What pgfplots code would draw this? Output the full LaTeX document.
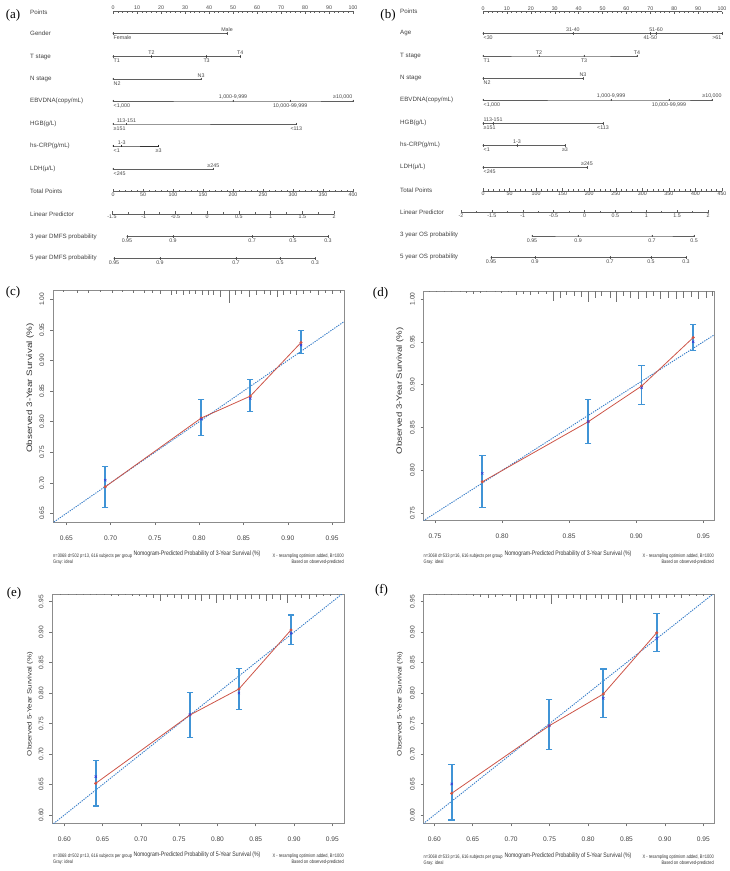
\documentclass[border=0pt]{standalone}
\usepackage{pgfplots}
\usepackage{pgfplotstable}
\pgfplotsset{compat=1.18}
\usepackage{fontspec}
\setmainfont{Liberation Sans}
\newfontfamily\seriffont{Liberation Serif}
\definecolor{ebblue}{RGB}{64,148,214}
\definecolor{redl}{RGB}{205,85,72}
\definecolor{xblue}{RGB}{60,60,215}
\definecolor{diagblue}{RGB}{55,125,200}
\definecolor{nline}{RGB}{95,95,95}
\definecolor{ntext}{RGB}{70,70,70}

% calibration data: x = predicted, y = observed (KM), xb = bias-corrected
\pgfplotstableread{
x y xb
0.694 0.6935 0.7044
0.8024 0.806 0.804
0.8577 0.8417 0.838
0.915 0.9294 0.9251
}\calc
\pgfplotstableread{
x y xb
0.7853 0.7868 0.7966
0.8642 0.8568 0.857
0.904 0.8984 0.8964
0.9425 0.955 0.950
}\cald
\pgfplotstableread{
x y xb
0.641 0.652 0.663
0.764 0.764 0.765
0.828 0.8067 0.800
0.896 0.9035 0.898
}\cale
\pgfplotstableread{
x y xb
0.6226 0.6356 0.651
0.7496 0.7465 0.7465
0.8199 0.7985 0.7915
0.8893 0.899 0.8899
}\calf
% rugs: x, length
\pgfplotstableread{
x l
0.647 0.0027
0.662 0.0044
0.675 0.0044
0.688 0.0027
0.702 0.0044
0.713 0.0027
0.726 0.0044
0.738 0.0044
0.747 0.0054
0.756 0.0065
0.768 0.0082
0.774 0.0065
0.782 0.0082
0.789 0.0065
0.796 0.0065
0.803 0.0082
0.810 0.0082
0.816 0.0082
0.824 0.011
0.834 0.0207
0.841 0.0082
0.848 0.0065
0.856 0.011
0.865 0.0082
0.873 0.0065
0.880 0.0082
0.888 0.011
0.895 0.0082
0.903 0.0065
0.910 0.0082
0.918 0.0065
0.925 0.0054
0.934 0.0082
0.942 0.0054
0.950 0.0065
0.959 0.0044
}\rugc
\pgfplotstableread{
x l
0.7458 0.0012
0.7512 0.0012
0.7567 0.0012
0.7624 0.0016
0.7686 0.0016
0.7736 0.0019
0.7785 0.0031
0.7835 0.0019
0.7885 0.0016
0.7947 0.0016
0.7997 0.0019
0.8046 0.0016
0.8109 0.0047
0.8158 0.0039
0.8208 0.0047
0.8270 0.0039
0.8332 0.0039
0.8382 0.0117
0.8431 0.0078
0.8481 0.0047
0.8536 0.0058
0.8593 0.0070
0.8642 0.0128
0.8692 0.0078
0.8742 0.0058
0.8804 0.0086
0.8854 0.0128
0.8903 0.0058
0.8953 0.0078
0.9015 0.0097
0.9072 0.0086
0.9126 0.0058
0.9176 0.0097
0.9238 0.0078
0.9301 0.0097
0.9350 0.0086
0.9412 0.0070
0.9462 0.0097
0.9519 0.0086
0.9569 0.0058
}\rugd
\pgfplotstableread{
x l
0.5944 0.0016
0.6052 0.0016
0.6162 0.0016
0.6248 0.0016
0.6335 0.0022
0.6423 0.0016
0.6518 0.0022
0.6619 0.0027
0.6705 0.0027
0.6792 0.0022
0.6893 0.0027
0.6979 0.0027
0.7075 0.0055
0.7162 0.0066
0.7258 0.0120
0.7344 0.0044
0.7432 0.0066
0.7532 0.0082
0.7618 0.0082
0.7706 0.0098
0.7793 0.0109
0.7892 0.0082
0.7989 0.0153
0.8075 0.0098
0.8162 0.0082
0.8258 0.0098
0.8358 0.0082
0.8446 0.0082
0.8545 0.0082
0.8641 0.0109
0.8720 0.0082
0.8815 0.0098
0.8910 0.0153
0.9011 0.0055
0.9098 0.0066
0.9197 0.0082
0.9285 0.0055
0.9380 0.0027
0.9477 0.0027
0.9563 0.0016
}\puge
\pgfplotstableread{
x l
0.5935 0.0016
0.6031 0.0016
0.6126 0.0016
0.6226 0.0016
0.6312 0.0022
0.6412 0.0022
0.6507 0.0027
0.6604 0.0044
0.6703 0.0066
0.6790 0.0044
0.6890 0.0027
0.6985 0.0044
0.7072 0.0109
0.7158 0.0082
0.7245 0.0066
0.7332 0.0082
0.7427 0.0066
0.7527 0.0164
0.7613 0.0066
0.7713 0.0082
0.7808 0.0066
0.7896 0.0082
0.7983 0.0098
0.8091 0.0066
0.8178 0.0082
0.8264 0.0082
0.8364 0.0098
0.8451 0.0153
0.8546 0.0082
0.8633 0.0098
0.8728 0.0066
0.8828 0.0082
0.8927 0.0066
0.9023 0.0066
0.9118 0.0055
0.9219 0.0066
0.9318 0.0027
0.9414 0.0027
0.9500 0.0027
0.9596 0.0016
}\rugf

\pgfplotsset{
  ptsA/.style={x filter/.expression={113+2.4*x}},
  totA/.style={x filter/.expression={113+0.6*x}},
  ptsB/.style={x filter/.expression={483+2.39*x}},
  totB/.style={x filter/.expression={483+0.5311*x}},
  nrow/.style={color=nline, line width=0.6pt, mark=|, mark size=1.3pt, mark options={solid, line width=0.5pt}},
  nlab/.style={only marks, mark=*, mark size=0.1pt, mark options={draw=none, fill=none}, nodes near coords, point meta=explicit symbolic,
     every node near coord/.append style={font=\fontsize{5.3}{6}\selectfont, text=ntext, inner sep=0.5pt}},
  lA/.style={nlab, nodes near coords align={above}, every node near coord/.append style={yshift=1.2pt}},
  lAR/.style={nlab, nodes near coords align={above left}, every node near coord/.append style={yshift=1.2pt}},
  lB/.style={nlab, nodes near coords align={below}, every node near coord/.append style={yshift=-1.8pt}},
  lBL/.style={nlab, nodes near coords align={below right}, every node near coord/.append style={yshift=-1.8pt}},
  lBR/.style={nlab, nodes near coords align={below left}, every node near coord/.append style={yshift=-1.8pt}},
  scaleax/.style={scale only axis, height=1pt, ymin=0, ymax=1, hide y axis,
     axis line style={draw=nline, line width=0.6pt}, x axis line style={-},
     tick style={draw=nline, line width=0.4pt}, major tick length=2.6pt, minor tick length=1.6pt,
     tick align=inside, tick label style={font=\fontsize{5.3}{6}\selectfont, text=ntext, inner sep=1pt},
     /pgf/number format/assume math mode=true},
  calib/.style={scale only axis, clip=true, axis line style={draw=black!45, line width=0.6pt},
     xtick pos=bottom, ytick pos=left, tick align=outside, major tick length=3pt,
     tick style={draw=black!55, line width=0.5pt},
     tick label style={font=\fontsize{6.6}{7}\selectfont, text=black!75},
     yticklabel style={rotate=90, anchor=south}, xticklabel shift=7.5pt, yticklabel shift=2.4pt,
     /pgf/number format/.cd, fixed, fixed zerofill, precision=2, assume math mode=true},
  diag/.style={color=diagblue, line width=0.9pt, dash pattern=on 1.3pt off 1.1pt},
  xmk/.style={only marks, mark=x, mark size=1.6pt, color=xblue, mark options={line width=0.6pt}},
  calred/.style={color=redl, line width=0.8pt, mark=*, mark size=1.1pt, mark options={fill=redl, draw=redl, solid}},
  ebar/.style={draw=ebblue, line width=1.8pt, line cap=butt, mark=-, mark size=3.2pt, mark options={solid, draw=ebblue, line width=1.1pt}},
  rug/.style={color=black!55, only marks, mark=*, mark size=0pt, mark options={draw=none, fill=none},
     error bars/.cd, y dir=minus, y explicit, error mark=none,
     error bar style={color=black!55, line width=0.5pt}},
}
\newcommand\xlab[1]{\fontsize{6.5}{7}\selectfont\scalebox{0.8}[1]{#1}}
\newcommand\foot[1]{\fontsize{5}{6}\selectfont\scalebox{0.8}[1]{#1}}

\begin{document}
\begin{tikzpicture}[x=1pt,y=1pt]
\path[use as bounding box] (0,0) rectangle (730,-871);

% ---------------- nomograms (overlay axis, pixel coordinates) ----------------
\begin{axis}[at={(0pt,0pt)}, anchor=north west, scale only axis, width=730pt, height=871pt,
  xmin=0, xmax=730, ymin=0, ymax=871, y dir=reverse, hide axis, clip=false]
% (a) Gender
\addplot[ptsA, nrow] coordinates {(0,33.3) (47.5,33.3)};
\addplot[ptsA, lBL] coordinates {(0,33.3) [Female]};
\addplot[ptsA, lA] coordinates {(47.5,33.3) [Male]};
% (a) T stage
\addplot[ptsA, nrow] coordinates {(0,56.7) (16,56.7) (39,56.7) (53,56.7)};
\addplot[ptsA, lBL] coordinates {(0,56.7) [T1]};
\addplot[ptsA, lA] coordinates {(16,56.7) [T2] (53,56.7) [T4]};
\addplot[ptsA, lB] coordinates {(39,56.7) [T3]};
% (a) N stage
\addplot[ptsA, nrow] coordinates {(0,79) (36.7,79)};
\addplot[ptsA, lBL] coordinates {(0,79) [N2]};
\addplot[ptsA, lA] coordinates {(36.7,79) [N3]};
% (a) EBVDNA
\addplot[ptsA, nrow] coordinates {(0,101) (50,101) (73.8,101) (100,101)};
\addplot[ptsA, lBL] coordinates {(0,101) [{<1,000}]};
\addplot[ptsA, lA] coordinates {(50,101) [{1,000-9,999}]};
\addplot[ptsA, lB] coordinates {(73.8,101) [{10,000-99,999}]};
\addplot[ptsA, lAR] coordinates {(100,101) [{≥10,000}]};
% (a) HGB
\addplot[ptsA, nrow] coordinates {(0,124) (5.6,124) (76.4,124)};
\addplot[ptsA, lBL] coordinates {(0,124) [{≥151}]};
\addplot[ptsA, lA] coordinates {(5.6,124) [{113-151}]};
\addplot[ptsA, lB] coordinates {(76.4,124) [{<113}]};
% (a) hs-CRP
\addplot[ptsA, nrow, line width=0.9pt, color=black!80] coordinates {(0,146) (3.6,146) (19,146)};
\addplot[ptsA, lBL] coordinates {(0,146) [{<1}]};
\addplot[ptsA, lA] coordinates {(3.6,146) [{1-3}]};
\addplot[ptsA, lB] coordinates {(19,146) [{≥3}]};
% (a) LDH
\addplot[ptsA, nrow] coordinates {(0,169) (41.8,169)};
\addplot[ptsA, lBL] coordinates {(0,169) [{<245}]};
\addplot[ptsA, lA] coordinates {(41.8,169) [{≥245}]};
% (a) 3 / 5 year DMFS (in total points)
\addplot[totA, nrow, line width=0.5pt] coordinates {(23.3,236.7) (100,236.7) (231.7,236.7) (300,236.7) (358.3,236.7)};
\addplot[totA, lB] coordinates {(23.3,236.7) [0.95] (100,236.7) [0.9] (231.7,236.7) [0.7] (300,236.7) [0.5] (358.3,236.7) [0.3]};
\addplot[totA, nrow, line width=0.5pt] coordinates {(1.7,258.3) (78.3,258.3) (205,258.3) (278.3,258.3) (336.7,258.3)};
\addplot[totA, lB] coordinates {(1.7,258.3) [0.95] (78.3,258.3) [0.9] (205,258.3) [0.7] (278.3,258.3) [0.5] (336.7,258.3) [0.3]};

% (b) Age
\addplot[ptsB, nrow] coordinates {(0,33.3) (37.6,33.3) (70,33.3) (72.4,33.3) (100,33.3)};
\addplot[ptsB, lBL] coordinates {(0,33.3) [{<30}]};
\addplot[ptsB, lA] coordinates {(37.6,33.3) [{31-40}] (72.4,33.3) [{51-60}]};
\addplot[ptsB, lB] coordinates {(70,33.3) [{41-50}]};
\addplot[ptsB, lBR] coordinates {(100,33.3) [{>61}]};
% (b) T stage
\addplot[ptsB, nrow] coordinates {(0,56) (23.4,56) (42.3,56) (64.4,56)};
\addplot[ptsB, lBL] coordinates {(0,56) [T1]};
\addplot[ptsB, lA] coordinates {(23.4,56) [T2] (64.4,56) [T4]};
\addplot[ptsB, lB] coordinates {(42.3,56) [T3]};
% (b) N stage
\addplot[ptsB, nrow] coordinates {(0,78.3) (41.8,78.3)};
\addplot[ptsB, lBL] coordinates {(0,78.3) [N2]};
\addplot[ptsB, lA] coordinates {(41.8,78.3) [N3]};
% (b) EBVDNA
\addplot[ptsB, nrow] coordinates {(0,100) (53.6,100) (77.8,100) (95.8,100)};
\addplot[ptsB, lBL] coordinates {(0,100) [{<1,000}]};
\addplot[ptsB, lA] coordinates {(53.6,100) [{1,000-9,999}] (95.8,100) [{≥10,000}]};
\addplot[ptsB, lB] coordinates {(77.8,100) [{10,000-99,999}]};
% (b) HGB
\addplot[ptsB, nrow] coordinates {(0,123.3) (4.2,123.3) (50.2,123.3)};
\addplot[ptsB, lBL] coordinates {(0,123.3) [{≥151}]};
\addplot[ptsB, lA] coordinates {(4.2,123.3) [{113-151}]};
\addplot[ptsB, lB] coordinates {(50.2,123.3) [{<113}]};
% (b) hs-CRP
\addplot[ptsB, nrow] coordinates {(0,145.3) (14.2,145.3) (34.3,145.3)};
\addplot[ptsB, lBL] coordinates {(0,145.3) [{<1}]};
\addplot[ptsB, lA] coordinates {(14.2,145.3) [{1-3}]};
\addplot[ptsB, lB] coordinates {(34.3,145.3) [{≥3}]};
% (b) LDH
\addplot[ptsB, nrow] coordinates {(0,167.3) (43.5,167.3)};
\addplot[ptsB, lBL] coordinates {(0,167.3) [{<245}]};
\addplot[ptsB, lA] coordinates {(43.5,167.3) [{≥245}]};
% (b) 3 / 5 year OS
\addplot[totB, nrow, line width=0.5pt] coordinates {(92.3,236) (178.9,236) (318.2,236) (397.3,236)};
\addplot[totB, lB] coordinates {(92.3,236) [0.95] (178.9,236) [0.9] (318.2,236) [0.7] (397.3,236) [0.5]};
\addplot[totB, nrow, line width=0.5pt] coordinates {(15.1,257.7) (97.9,257.7) (239.1,257.7) (316.3,257.7) (382.2,257.7)};
\addplot[totB, lB] coordinates {(15.1,257.7) [0.95] (97.9,257.7) [0.9] (239.1,257.7) [0.7] (316.3,257.7) [0.5] (382.2,257.7) [0.3]};
\end{axis}

% ---------------- nomogram scale axes ----------------
\begin{axis}[scaleax, axis x line*=top, at={(113pt,-11pt)}, anchor=north west, width=240pt,
  xmin=0, xmax=100, xtick={0,10,...,100}, minor x tick num=4]
\end{axis}
\begin{axis}[scaleax, axis x line*=bottom, at={(113pt,-191.7pt)}, anchor=south west, width=240pt,
  xmin=0, xmax=400, xtick={0,50,...,400}, minor x tick num=4]
\end{axis}
\begin{axis}[scaleax, axis x line*=bottom, at={(112pt,-214pt)}, anchor=south west, width=222pt,
  xmin=-1.5, xmax=2, xtick={-1.5,-1,-0.5,0,0.5,1,1.5,2}, minor x tick num=1]
\end{axis}
\begin{axis}[scaleax, axis x line*=top, at={(483pt,-11.7pt)}, anchor=north west, width=239pt,
  xmin=0, xmax=100, xtick={0,10,...,100}, minor x tick num=4]
\end{axis}
\begin{axis}[scaleax, axis x line*=bottom, at={(483pt,-191pt)}, anchor=south west, width=239pt,
  xmin=0, xmax=450, xtick={0,50,...,450}, minor x tick num=4]
\end{axis}
\begin{axis}[scaleax, axis x line*=bottom, at={(461pt,-212.7pt)}, anchor=south west, width=247pt,
  xmin=-2, xmax=2, xtick={-2,-1.5,-1,-0.5,0,0.5,1,1.5,2}, minor x tick num=1]
\end{axis}

% row names
\begin{scope}[every node/.style={anchor=west, font=\fontsize{6.2}{7}\selectfont, text=black!75, inner sep=0pt}]
\node at (30,-12.3) {Points};
\node at (30,-33.3) {Gender};
\node at (30,-56.7) {T stage};
\node at (30,-79) {N stage};
\node at (30,-101) {EBVDNA(copy/mL)};
\node at (30,-124) {HGB(g/L)};
\node at (30,-146) {hs-CRP(g/mL)};
\node at (30,-169) {LDH(μ/L)};
\node at (30,-191.7) {Total Points};
\node at (30,-214) {Linear Predictor};
\node at (30,-236.7) {3 year DMFS probability};
\node at (30,-258.3) {5 year DMFS probability};
\node at (400,-11.7) {Points};
\node at (400,-33) {Age};
\node at (400,-56) {T stage};
\node at (400,-78.3) {N stage};
\node at (400,-100) {EBVDNA(copy/mL)};
\node at (400,-123) {HGB(g/L)};
\node at (400,-145) {hs-CRP(g/mL)};
\node at (400,-167.3) {LDH(μ/L)};
\node at (400,-190.3) {Total Points};
\node at (400,-212.3) {Linear Predictor};
\node at (400,-235.3) {3 year OS probability};
\node at (400,-257.3) {5 year OS probability};
\end{scope}

% ---------------- calibration plots ----------------
\begin{axis}[calib, at={(53pt,-290pt)}, anchor=north west, width=291pt, height=232pt,
  xmin=0.635, xmax=0.9635, ymin=0.636, ymax=1.0152,
  xtick={0.65,0.7,0.75,0.8,0.85,0.9,0.95}, ytick={0.65,0.7,0.75,0.8,0.85,0.9,0.95,1}]
\addplot[diag] coordinates {(0.5,0.5) (1.05,1.05)};
\addplot[rug] table[x=x, y expr=1.0152, y error minus expr=\thisrow{l}] {\rugc};
\addplot[ebar] coordinates {(0.694,0.660) (0.694,0.726)};
\addplot[ebar] coordinates {(0.8024,0.777) (0.8024,0.836)};
\addplot[ebar] coordinates {(0.8577,0.816) (0.8577,0.8695)};
\addplot[ebar] coordinates {(0.915,0.912) (0.915,0.949)};
\addplot[calred] table[x=x, y=y] {\calc};
\addplot[xmk] table[x=x, y=xb] {\calc};
\end{axis}
\begin{axis}[calib, at={(423.7pt,-291pt)}, anchor=north west, width=290.3pt, height=229pt,
  xmin=0.7416, xmax=0.958, ymin=0.7422, ymax=1.0093,
  xtick={0.75,0.8,0.85,0.9,0.95}, ytick={0.75,0.8,0.85,0.9,0.95,1}]
\addplot[diag] coordinates {(0.5,0.5) (1.05,1.05)};
\addplot[rug] table[x=x, y expr=1.0093, y error minus expr=\thisrow{l}] {\rugd};
\addplot[ebar] coordinates {(0.7853,0.7566) (0.7853,0.8171)};
\addplot[ebar] coordinates {(0.8642,0.8316) (0.8642,0.8829)};
\addplot[ebar] coordinates {(0.904,0.8774) (0.904,0.922)};
\addplot[ebar] coordinates {(0.9425,0.940) (0.9425,0.970)};
\addplot[calred] table[x=x, y=y] {\cald};
\addplot[xmk] table[x=x, y=xb] {\cald};
\end{axis}
\begin{axis}[calib, at={(52.3pt,-594pt)}, anchor=north west, width=291.7pt, height=229.3pt,
  xmin=0.5843, xmax=0.9653, ymin=0.5864, ymax=0.9626,
  xtick={0.6,0.65,0.7,0.75,0.8,0.85,0.9,0.95}, ytick={0.6,0.65,0.7,0.75,0.8,0.85,0.9,0.95}]
\addplot[diag] coordinates {(0.5,0.5) (1.05,1.05)};
\addplot[rug] table[x=x, y expr=0.9626, y error minus expr=\thisrow{l}] {\puge};
\addplot[ebar] coordinates {(0.641,0.6148) (0.641,0.6897)};
\addplot[ebar] coordinates {(0.764,0.7279) (0.764,0.8013)};
\addplot[ebar] coordinates {(0.828,0.7733) (0.828,0.8406)};
\addplot[ebar] coordinates {(0.896,0.8793) (0.896,0.9281)};
\addplot[calred] table[x=x, y=y] {\cale};
\addplot[xmk] table[x=x, y=xb] {\cale};
\end{axis}
\begin{axis}[calib, at={(423.7pt,-594pt)}, anchor=north west, width=290.3pt, height=229.3pt,
  xmin=0.5862, xmax=0.9639, ymin=0.5864, ymax=0.9626,
  xtick={0.6,0.65,0.7,0.75,0.8,0.85,0.9,0.95}, ytick={0.6,0.65,0.7,0.75,0.8,0.85,0.9,0.95}]
\addplot[diag] coordinates {(0.5,0.5) (1.05,1.05)};
\addplot[rug] table[x=x, y expr=0.9626, y error minus expr=\thisrow{l}] {\rugf};
\addplot[ebar] coordinates {(0.6226,0.5918) (0.6226,0.6832)};
\addplot[ebar] coordinates {(0.7496,0.7068) (0.7496,0.790)};
\addplot[ebar] coordinates {(0.8199,0.760) (0.8199,0.8395)};
\addplot[ebar] coordinates {(0.8893,0.868) (0.8893,0.931)};
\addplot[calred] table[x=x, y=y] {\calf};
\addplot[xmk] table[x=x, y=xb] {\calf};
\end{axis}

% axis titles and notes
\begin{scope}[every node/.style={text=black!80, inner sep=0pt}]
\node at (197,-554) {\xlab{Nomogram-Predicted Probability of 3-Year Survival (\%)}};
\node at (568,-554) {\xlab{Nomogram-Predicted Probability of 3-Year Survival (\%)}};
\node at (197,-855) {\xlab{Nomogram-Predicted Probability of 5-Year Survival (\%)}};
\node at (568,-856) {\xlab{Nomogram-Predicted Probability of 5-Year Survival (\%)}};
\node[rotate=90] at (30,-388) {\fontsize{9.8}{11}\selectfont\scalebox{1}[0.8]{Observed 3-Year Survival (\%)}};
\node[rotate=90] at (400,-390.7) {\fontsize{9.6}{11}\selectfont\scalebox{1}[0.8]{Observed 3-Year Survival (\%)}};
\node[rotate=90] at (30,-704) {\fontsize{7.9}{9}\selectfont\scalebox{1}[0.8]{Observed 5-Year Survival (\%)}};
\node[rotate=90] at (400,-704) {\fontsize{7.9}{9}\selectfont\scalebox{1}[0.8]{Observed 5-Year Survival (\%)}};
% footnotes
\node[anchor=west] at (53,-556.5) {\foot{n=3068 d=502 p=13, 616 subjects per group}};
\node[anchor=west] at (53,-562.3) {\foot{Gray: ideal}};
\node[anchor=east] at (344,-556.5) {\foot{X - resampling optimism added, B=1000}};
\node[anchor=east] at (344,-562.3) {\foot{Based on observed-predicted}};
\node[anchor=west] at (423.5,-556.5) {\foot{n=3068 d=533 p=16, 616 subjects per group}};
\node[anchor=west] at (423.5,-562.5) {\foot{Gray: ideal}};
\node[anchor=east] at (714,-556.5) {\foot{X - resampling optimism added, B=1000}};
\node[anchor=east] at (714,-562.5) {\foot{Based on observed-predicted}};
\node[anchor=west] at (53,-856.3) {\foot{n=3068 d=502 p=13, 616 subjects per group}};
\node[anchor=west] at (53,-862.5) {\foot{Gray: ideal}};
\node[anchor=east] at (344,-856.3) {\foot{X - resampling optimism added, B=1000}};
\node[anchor=east] at (344,-862.5) {\foot{Based on observed-predicted}};
\node[anchor=west] at (423.5,-856.7) {\foot{n=3068 d=533 p=16, 616 subjects per group}};
\node[anchor=west] at (423.5,-863) {\foot{Gray: ideal}};
\node[anchor=east] at (714,-856.7) {\foot{X - resampling optimism added, B=1000}};
\node[anchor=east] at (714,-863) {\foot{Based on observed-predicted}};
\end{scope}

% panel letters
\begin{scope}[every node/.style={font=\seriffont\fontsize{13}{14}\selectfont, inner sep=0pt}]
\node at (13,-15) {(a)};
\node at (388,-15) {(b)};
\node at (13,-292) {(c)};
\node at (380.5,-293) {(d)};
\node at (14,-593.5) {(e)};
\node at (381.5,-590) {(f)};
\end{scope}
\end{tikzpicture}
\end{document}
